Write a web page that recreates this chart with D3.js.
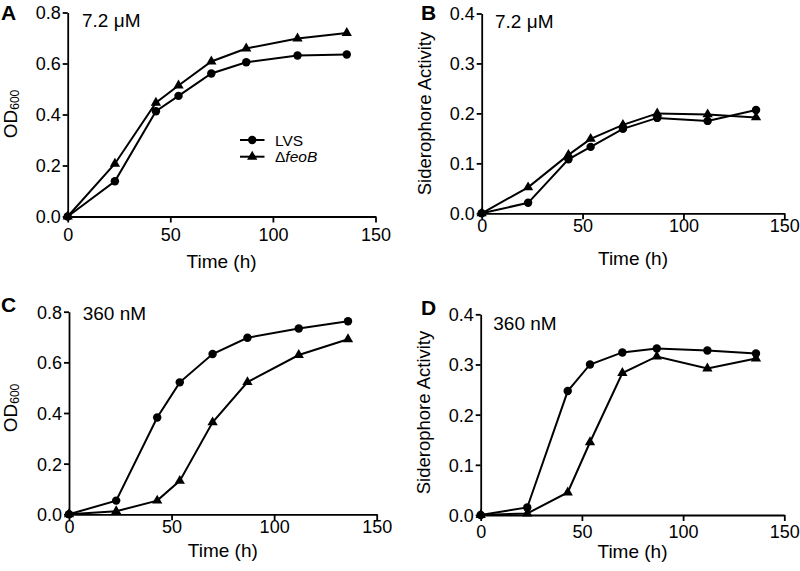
<!DOCTYPE html>
<html>
<head>
<meta charset="utf-8">
<script src="https://cdn.jsdelivr.net/npm/d3@7"></script>
<style>
  html, body { margin: 0; padding: 0; background: #fff; }
  svg { display: block; font-family: Arial, "Liberation Sans", sans-serif; }
</style>
</head>
<body>
<svg id="chart" width="800" height="571"></svg>
<script>
// ---- data ----
const times = [0, 23, 43, 54, 70, 87, 112, 136];
const xTicks = [0, 50, 100, 150];

const aLVS  = [0, 0.138, 0.413, 0.473, 0.561, 0.605, 0.631, 0.635];
const aFeoB = [0, 0.207, 0.446, 0.514, 0.608, 0.659, 0.698, 0.720];

const bLVS  = [0, 0.021, 0.108, 0.133, 0.169, 0.191, 0.185, 0.207];
const bFeoB = [0, 0.052, 0.117, 0.149, 0.177, 0.200, 0.198, 0.192];

const cLVS  = [0, 0.054, 0.382, 0.521, 0.633, 0.697, 0.734, 0.762];
const cFeoB = [0, 0.012, 0.054, 0.132, 0.363, 0.522, 0.629, 0.691];

const dLVS  = [0, 0.015, 0.247, 0.300, 0.324, 0.332, 0.328, 0.322];
const dFeoB = [0, 0.003, 0.045, 0.145, 0.283, 0.316, 0.292, 0.312];

const odTicks = [0, 0.2, 0.4, 0.6, 0.8];
const sidTicks = [0, 0.1, 0.2, 0.3, 0.4];

const panelLetters = ["A", "B", "C", "D"];
const concLabels = ["7.2 \u03BCM", "7.2 \u03BCM", "360 nM", "360 nM"];
const seriesNames = ["LVS", "\u0394feoB"];

// ---- layout ----
const svg = d3.select("#chart");
const panels = [
  { letter: panelLetters[0], conc: concLabels[0], lvs: aLVS, feo: aFeoB, yMax: 0.8, yTicks: odTicks, yTitle: "OD",
    x0: 67.7, x1: 375.5, yTop: 12.5, yBot: 216.5, letterX: 1, letterY: 20, legend: true,
    tickLab: 24, titleY: 267.5, concX: 82, concY: 26.5, yTitleC: 114, yTitleX: 16.5 },
  { letter: panelLetters[1], conc: concLabels[1], lvs: bLVS, feo: bFeoB, yMax: 0.4, yTicks: sidTicks, yTitle: "Siderophore Activity",
    x0: 481.7, x1: 784.3, yTop: 13.5, yBot: 213.3, letterX: 421, letterY: 20,
    tickLab: 19, titleY: 264.5, concX: 495, concY: 28.3, yTitleC: 113.5, yTitleX: 430.7 },
  { letter: panelLetters[2], conc: concLabels[2], lvs: cLVS, feo: cFeoB, yMax: 0.8, yTicks: odTicks, yTitle: "OD",
    x0: 69, x1: 376.7, yTop: 311.7, yBot: 514.3, letterX: 1, letterY: 312,
    tickLab: 19, titleY: 557, concX: 82.7, concY: 320, yTitleC: 408, yTitleX: 16.5 },
  { letter: panelLetters[3], conc: concLabels[3], lvs: dLVS, feo: dFeoB, yMax: 0.4, yTicks: sidTicks, yTitle: "Siderophore Activity",
    x0: 480.7, x1: 784.3, yTop: 314.3, yBot: 515, letterX: 421, letterY: 315,
    tickLab: 22.5, titleY: 558, concX: 493.3, concY: 330, yTitleC: 412.5, yTitleX: 429.7 }
];

const circle = d3.symbol().type(d3.symbolCircle).size(56);
const tri = d3.symbol().type(d3.symbolTriangle).size(46);
const tickFs = 18, titleFs = 19;

panels.forEach(p => {
  const x = d3.scaleLinear().domain([0, 150]).range([p.x0, p.x1]);
  const y = d3.scaleLinear().domain([0, p.yMax]).range([p.yBot, p.yTop]);
  const g = svg.append("g");

  // axes
  const xa = g.append("g").attr("transform", `translate(0,${p.yBot})`)
    .call(d3.axisBottom(x).tickValues(xTicks).tickSize(6).tickSizeOuter(0));
  const ya = g.append("g").attr("transform", `translate(${p.x0},0)`)
    .call(d3.axisLeft(y).tickValues(p.yTicks).tickFormat(d3.format(".1f")).tickSize(5).tickSizeOuter(0).tickPadding(2));
  [xa, ya].forEach(a => {
    a.selectAll("path, line").attr("stroke", "#000").attr("stroke-width", 1.8);
    a.selectAll("text").attr("fill", "#000").style("font-size", tickFs + "px")
      .style("font-family", "Arial, 'Liberation Sans', sans-serif");
  });
  xa.selectAll("text").attr("y", p.tickLab).attr("dy", 0);
  ya.selectAll("text").attr("dy", "0.36em");

  // x title
  g.append("text").attr("x", (p.x0 + p.x1) / 2).attr("y", p.titleY)
    .attr("text-anchor", "middle").style("font-size", titleFs + "px").text("Time (h)");

  // y title
  const isOD = p.yTitle === "OD";
  const yt = g.append("text")
    .attr("transform", `translate(${p.yTitleX},${p.yTitleC}) rotate(-90)`)
    .attr("text-anchor", "middle").style("font-size", (isOD ? 19 : 18.5) + "px");
  if (isOD) {
    yt.append("tspan").text("OD");
    yt.append("tspan").attr("dy", 2).style("font-size", "12px").text("600");
  } else {
    yt.text(p.yTitle);
  }

  // panel letter
  g.append("text").attr("x", p.letterX).attr("y", p.letterY)
    .style("font-size", "21px").style("font-weight", "bold").text(p.letter);

  // concentration label
  g.append("text").attr("x", p.concX).attr("y", p.concY)
    .style("font-size", titleFs + "px").text(p.conc);

  // series
  const line = d3.line().x((d, i) => x(times[i])).y(d => y(d));
  [[p.feo, tri], [p.lvs, circle]].forEach(([vals, sym]) => {
    g.append("path").datum(vals).attr("d", line)
      .attr("fill", "none").attr("stroke", "#000").attr("stroke-width", 2);
    g.selectAll(null).data(vals).enter().append("path")
      .attr("transform", (d, i) => `translate(${x(times[i])},${y(d)})`)
      .attr("d", sym).attr("fill", "#000");
  });

  if (p.legend) {
    const lg = g.append("g");
    const rows = [[seriesNames[0], circle, 140], [seriesNames[1], tri, 156.7]];
    rows.forEach(([name, sym, ly], k) => {
      lg.append("line").attr("x1", 240).attr("x2", 264.5).attr("y1", ly).attr("y2", ly)
        .attr("stroke", "#000").attr("stroke-width", 2);
      lg.append("path").attr("transform", `translate(252.2,${ly})`).attr("d", sym).attr("fill", "#000");
      const t = lg.append("text").attr("x", 275).attr("y", ly + 5.5).style("font-size", "15.5px");
      if (k === 1) {
        t.append("tspan").text("\u0394");
        t.append("tspan").style("font-style", "italic").text("feoB");
      } else {
        t.text(name);
      }
    });
  }
});
</script>
</body>
</html>
